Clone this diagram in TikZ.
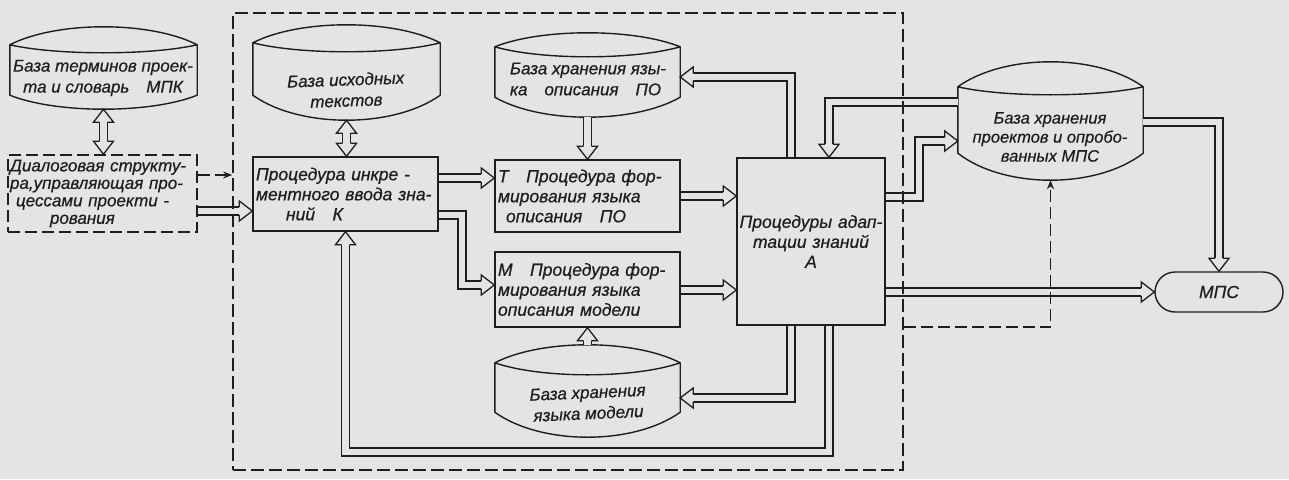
\documentclass[tikz,border=0pt]{standalone}
\usepackage{fontspec}
\setmainfont{Liberation Sans}
\newfontfamily\dr{Liberation Sans}[ItalicFeatures={FakeBold=0.6}]
\usetikzlibrary{arrows.meta,calc}
\definecolor{paper}{RGB}{228,228,228}
\definecolor{ink}{RGB}{30,30,30}

% hollow arrow head for double connectors: tip at #1, direction #2 (degrees)
\newcommand\hd[2]{\begin{scope}[shift={(#1)},rotate=#2]
  \filldraw[draw=ink,fill=paper,line width=1.3pt,line join=miter] (-13,3.85) -- (-13,10) -- (0,0) -- (-13,-10) -- (-13,-3.85);
\end{scope}}

% storage drum: name, cx, cy, width, side height, top rise, lens sag, bottom sag
\newcommand\drum[8]{%
 \node[minimum width=#4pt, minimum height=#5pt, inner sep=0pt, draw=none] (#1) at (#2,#3) {};
 \coordinate (#1-top) at ($(#1.north)+(0,-#6)$);
 \coordinate (#1-bot) at ($(#1.south)+(0,#8)$);
 \draw[drumline] (#1.north west)
   .. controls ($(#1.north west)!0.25!(#1.north east)+(0,{-#6*4/3})$) and ($(#1.north west)!0.75!(#1.north east)+(0,{-#6*4/3})$) .. (#1.north east)
   .. controls ($(#1.north west)!0.75!(#1.north east)+(0,{#7*4/3})$) and ($(#1.north west)!0.25!(#1.north east)+(0,{#7*4/3})$) .. (#1.north west)
   -- (#1.south west)
   .. controls ($(#1.south west)!0.25!(#1.south east)+(0,{#8*4/3})$) and ($(#1.south west)!0.75!(#1.south east)+(0,{#8*4/3})$) .. (#1.south east)
   -- (#1.north east);
}

\tikzset{
  every node/.style={font=\fontsize{17.5}{20}\selectfont\dr\itshape, text=ink},
  box/.style={draw=ink, line width=1.4pt, inner sep=3pt},
  drumline/.style={draw=ink, line width=1.4pt, line join=round},
  dbl/.style={draw=ink, line width=1.3pt, double=paper, double distance=6.5pt, line join=miter},
  dsh/.style={draw=ink, line width=1.7pt, dash pattern=on 13pt off 5pt},
  dsharrow/.style={draw=ink, line width=1.5pt, dash pattern=on 12pt off 5pt, -{Stealth[length=9pt,width=7pt]}},
  drumtext/.style={align=center, font=\fontsize{17}{21}\selectfont\dr\itshape},
}

\begin{document}
\begin{tikzpicture}[x=1pt,y=-1pt]
\useasboundingbox (0,0) rectangle (1289,479);
\fill[paper] (0,0) rectangle (1289,479);

% ---------- drums ----------
\drum{c1}{103.5}{70}{187}{50}{18}{8}{14}
\drum{c2}{346.5}{69}{187}{52}{18}{9}{25}
\drum{c3}{587.5}{72}{185}{50}{14}{10}{20}
\drum{c4}{587.5}{387.5}{185}{49}{18}{12}{25}
\drum{pj}{1050.5}{120}{185}{66}{25}{8}{27}

\node[drumtext] (c1t) at (103,78) {База терминов проек-\\та и словарь\quad МПК};
\node[drumtext, rotate=2] (c2t) at (346,90) {База исходных\\текстов};
\node[drumtext, align=left] (c3t) at (588,79) {База хранения язы-\\ка\quad описания\quad ПО};
\node[drumtext, rotate=2.5] (c4t) at (588,403) {База хранения\\языка модели};
\node[drumtext, font=\fontsize{16.5}{19}\selectfont\dr\itshape] (pjt) at (1050,137) {База хранения\\проектов и опробо-\\ванных МПС};

% ---------- boxes ----------
\node[box, dash pattern=on 12pt off 5pt, line width=1.6pt, minimum width=189pt, minimum height=77pt,
      text width=185pt, inner sep=2pt, align=left, font=\fontsize{17}{17.5}\selectfont\dr\itshape] (dlg) at (102.5,193.5)
  {Диалоговая структу-\\ра,управляющая про-\\\hspace*{6pt}цессами проекти -\\\hspace*{40pt}рования};
\node[box, minimum width=185pt, minimum height=74pt, text width=179pt, align=left] (K) at (345.5,194)
  {Процедура инкре -\\ментного ввода зна-\\\hspace*{30pt}ний\quad К};
\node[box, minimum width=185pt, minimum height=72pt, text width=179pt, align=left] (T) at (587.5,196)
  {Т\quad Процедура фор-\\мирования языка\\\hspace*{8pt}описания\quad ПО};
\node[box, minimum width=185pt, minimum height=75pt, text width=179pt, align=left] (M) at (587.5,289.5)
  {М\quad Процедура фор-\\мирования языка\\описания модели};
\node[box, minimum width=148pt, minimum height=167pt, text width=146pt, align=center, inner sep=1pt] (A) at (811,241.5)
  {Процедуры адап-\\тации знаний\\А};
\node[box, minimum width=128pt, minimum height=40pt, rounded corners=20pt] (mps) at (1219,292) {МПС};

% ---------- double connectors ----------
% drum 1 <-> dialog
\draw[dbl, shorten <=13pt, shorten >=13pt] (c1-bot) -- (c1-bot |- dlg.north);
\hd{c1-bot}{90}
\hd{c1-bot |- dlg.north}{-90}
% dialog -> K
\draw[dbl, shorten >=13pt] (dlg.east |- 0,211) -- (K.west |- 0,211);
\hd{K.west |- 0,211}{0}
% drum 2 <-> K
\draw[dbl, shorten <=13pt, shorten >=13pt] (c2-bot) -- (c2-bot |- K.north);
\hd{c2-bot}{90}
\hd{c2-bot |- K.north}{-90}
% K -> T
\draw[dbl, shorten >=13pt] (K.east |- 0,178) -- (T.west |- 0,178);
\hd{T.west |- 0,178}{0}
% K -> M
\draw[dbl, shorten >=13pt] (K.east |- 0,215) -- (462,215) -- (462,285) -- (M.west |- 0,285);
\hd{M.west |- 0,285}{0}
% drum 3 -> T
\draw[dbl, shorten >=13pt] (c3-bot) -- (c3-bot |- T.north);
\hd{c3-bot |- T.north}{-90}
% T -> A, M -> A
\draw[dbl, shorten >=13pt] (T.east |- 0,196) -- (A.west |- 0,196);
\hd{A.west |- 0,196}{0}
\draw[dbl, shorten >=13pt] (M.east |- 0,290) -- (A.west |- 0,290);
\hd{A.west |- 0,290}{0}
% drum 4 -> M
\draw[dbl, shorten >=13pt] (c4-top) -- (c4-top |- M.south);
\hd{c4-top |- M.south}{90}
% A -> drum 3
\draw[dbl, shorten >=13pt] (A.north -| 791,0) -- (791,77) -- (c3.east |- 0,77);
\hd{c3.east |- 0,77}{180}
% projects drum -> A
\draw[dbl, shorten >=13pt] (pj.west |- 0,102) -- (829,102) -- (A.north -| 829,0);
\hd{A.north -| 829,0}{-90}
% A -> projects drum
\draw[dbl, shorten >=13pt] (A.east |- 0,197) -- (919,197) -- (919,141) -- (pj.west |- 0,141);
\hd{pj.west |- 0,141}{0}
% A -> drum 4
\draw[dbl, shorten >=13pt] (A.south -| 791,0) -- (791,398) -- (c4.east |- 0,398);
\hd{c4.east |- 0,398}{180}
% A -> K (feedback loop)
\draw[dbl, shorten >=13pt] (A.south -| 829,0) -- (829,452) -- (K.south |- 0,452) -- (K.south);
\hd{K.south}{90}
% A -> MPS
\draw[dbl, shorten >=13pt] (A.east |- mps.west) -- (mps.west);
\hd{mps.west}{0}
% projects drum -> MPS
\draw[dbl, shorten >=13pt] (pj.east |- 0,122) -- (mps.north |- 0,122) -- (mps.north);
\hd{mps.north}{-90}

% ---------- dashed frame and dashed connectors ----------
\node[dsh, minimum width=670pt, minimum height=457pt, inner sep=0pt] (frame) at (568,241.5) {};
\draw[dsharrow] (dlg.east |- 0,175) -- (frame.west |- 0,175);
\draw[dsharrow] (frame.east |- 0,327) -- (pj-bot |- 0,327) -- (pj-bot);
\end{tikzpicture}
\end{document}
